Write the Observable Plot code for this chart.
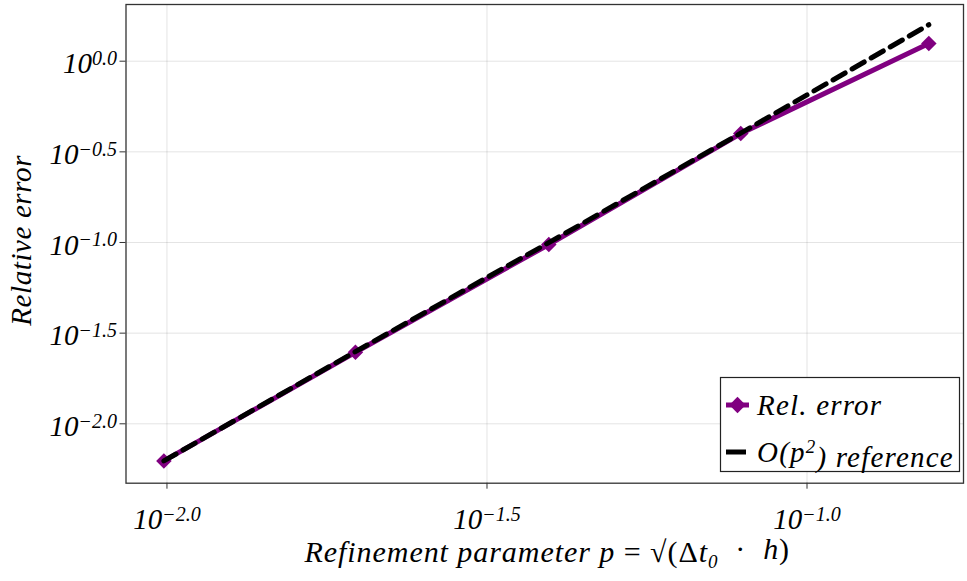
<!DOCTYPE html>
<html><head><meta charset="utf-8">
<script src="https://cdn.jsdelivr.net/npm/d3@7"></script>
<script src="https://cdn.jsdelivr.net/npm/@observablehq/plot@0.6"></script>
<style>body{margin:0;background:#fff;overflow:hidden}</style>
</head><body><div id="chart"></div>
<script>
// ---- data ----
const pValues  = [0.00989, 0.0197, 0.0395, 0.0788, 0.155];
const relError = [0.00624, 0.0248, 0.0975, 0.399, 1.253];
const refError = [0.00624, 0.0250, 0.0998, 0.401, 1.589];
const xTickExponents = [-2.0, -1.5, -1.0];
const yTickExponents = [0.0, -0.5, -1.0, -1.5, -2.0];
const seriesLabels = ["Rel. error", "reference"];
const xLabelText = "Refinement parameter";
const yLabelText = "Relative error";

const FONT = "'Liberation Serif', 'DejaVu Serif', serif";
const PURPLE = "#800080";
const W = 967, H = 581;
const mL = 125.5, mR = 4, mT = 4, mB = 98.3;

const data = pValues.map((p, i) => ({p, err: relError[i], ref: refError[i]}));
const xTicks = xTickExponents.map(e => 10 ** e);
const yTicks = yTickExponents.map(e => 10 ** e);
const expFmt = d => { const e = Math.round(Math.log10(d) * 10) / 10; return (e < 0 ? "\u2212" : "") + Math.abs(e).toFixed(1); };

const chart = Plot.plot({
  width: W, height: H,
  marginLeft: mL, marginRight: mR, marginTop: mT, marginBottom: mB,
  style: {background: "#fff", fontFamily: FONT, fontStyle: "italic", fontSize: "29px", color: "#000", overflow: "visible"},
  x: {type: "log", domain: [10 ** -2.064, 10 ** -0.7555]},
  y: {type: "log", domain: [10 ** -2.3276, 10 ** 0.3127]},
  marks: [
    Plot.gridX(xTicks, {stroke: "#000", strokeOpacity: 0.11, strokeWidth: 1}),
    Plot.gridY(yTicks, {stroke: "#000", strokeOpacity: 0.11, strokeWidth: 1}),
    Plot.axisX(xTicks, {tickSize: 6, tickPadding: 0, tickFormat: expFmt, label: null, stroke: "#333", fontSize: 29}),
    Plot.axisY(yTicks, {tickSize: 6, tickPadding: 3, tickFormat: expFmt, label: null, stroke: "#333", fontSize: 29}),
    Plot.line(data, {x: "p", y: "err", stroke: PURPLE, strokeWidth: 5}),
    Plot.dot(data, {x: "p", y: "err", symbol: "diamond2", fill: PURPLE, r: 7}),
    Plot.line(data, {x: "p", y: "ref", stroke: "#000", strokeWidth: 5, strokeDasharray: "14,8"}),
    Plot.frame({stroke: "#333", strokeWidth: 1.3})
  ]
});
document.getElementById("chart").appendChild(chart);

const svg = d3.select(chart);
// superscript tick labels: 10^e
function sup(sel, dy) {
  sel.each(function() {
    const t = d3.select(this);
    const s = t.text();
    t.text(null).attr("dy", dy);
    t.append("tspan").text("10");
    t.append("tspan").attr("dy", "-0.42em").attr("font-size", "20px").text(s);
  });
}
sup(svg.selectAll('[aria-label="x-axis tick label"] text'), "0.66em");
sup(svg.selectAll('[aria-label="y-axis tick label"] text'), "0.1em");

// axis titles
const xl = svg.append("text").attr("x", (mL + W - mR) / 2 + 3).attr("y", 562)
  .attr("text-anchor", "middle").attr("font-family", FONT).attr("font-style", "italic")
  .attr("font-size", 30).attr("letter-spacing", 0.95);
xl.append("tspan").text(xLabelText + " p ");
xl.append("tspan").attr("font-style", "normal").text("= \u221A(\u0394");
xl.append("tspan").text("t");
xl.append("tspan").attr("font-size", 19).attr("dy", "0.3em").text("0");
xl.append("tspan").attr("dy", "-0.3em").attr("font-style", "normal").text("\u00A0\u00A0\u00B7\u00A0\u00A0");
xl.append("tspan").text("h");
xl.append("tspan").attr("font-style", "normal").text(")");

svg.append("text").attr("transform", `translate(31,${(mT + H - mB) / 2 - 3}) rotate(-90)`)
  .attr("text-anchor", "middle").attr("font-family", FONT).attr("font-style", "italic").attr("font-size", 29)
  .attr("letter-spacing", 0.6)
  .text(yLabelText);

// legend
const lg = svg.append("g").attr("font-family", FONT).attr("font-style", "italic").attr("font-size", 29)
  .attr("text-anchor", "start");
lg.append("rect").attr("x", 720.5).attr("y", 377.5).attr("width", 239).attr("height", 94)
  .attr("fill", "#fff").attr("stroke", "#222").attr("stroke-width", 1.2);
lg.append("line").attr("x1", 726).attr("x2", 749).attr("y1", 405).attr("y2", 405)
  .attr("stroke", PURPLE).attr("stroke-width", 5);
lg.append("path").attr("d", d3.symbol(d3.symbolSquare2, 170)()).attr("transform", "translate(737.5,405) rotate(45)")
  .attr("fill", PURPLE);
lg.append("text").attr("x", 757).attr("y", 415).attr("letter-spacing", 1.2).text(seriesLabels[0]);
lg.append("line").attr("x1", 726).attr("x2", 746).attr("y1", 452).attr("y2", 452)
  .attr("stroke", "#000").attr("stroke-width", 5);
const t2 = lg.append("text").attr("x", 757).attr("y", 462).attr("letter-spacing", 1.2);
t2.append("tspan").text("O(p");
t2.append("tspan").attr("font-size", 19).attr("dy", "-0.45em").text("2");
t2.append("tspan").attr("dy", "0.45em").text(") " + seriesLabels[1]);
</script>
</body></html>
